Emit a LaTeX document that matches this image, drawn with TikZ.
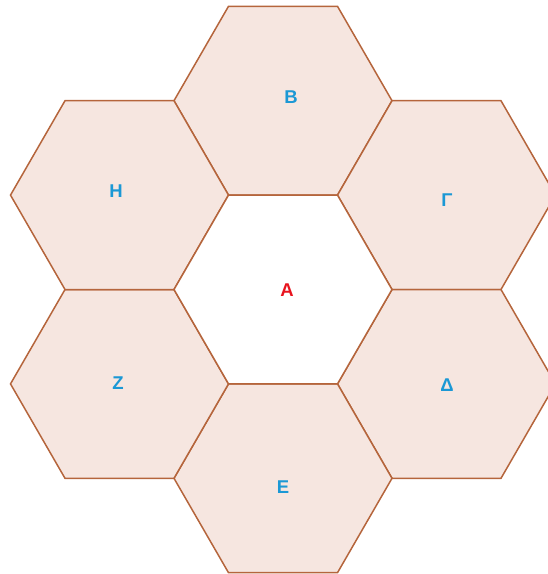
\documentclass[tikz,border=0pt]{standalone}
\usepackage{fontspec}
\setmainfont{Liberation Sans}
\definecolor{cellfill}{HTML}{F6E6E0}
\definecolor{cellline}{HTML}{B5653C}
\definecolor{lblblue}{HTML}{1B98D5}
\definecolor{lblred}{HTML}{E8141E}
\begin{document}
\begin{tikzpicture}[x=1pt, y=-1pt,
  cell/.style={draw=cellline, line width=1.5pt, line join=miter},
  lbl/.style={font=\fontsize{18.5}{22}\selectfont\bfseries, inner sep=0pt}]

  %% ---- Parameters ----
  \pgfmathsetmacro{\rr}{109}

  %% ---- Frame ----
  \useasboundingbox (0,0) rectangle (548,574);
  \clip (0,0) rectangle (548,574);

  %% ---- Outer ring of cells ----
  \foreach \cx/\cy/\lx/\ly/\nm/\txt in {
      283/100.7/291/97/B/Β,
      446.5/195.1/447/200/G/Γ,
      446.5/383.9/447/385/D/Δ,
      283/478.3/283/487/E/Ε,
      119.5/383.9/118/383/Z/Ζ,
      119.5/195.1/116/191/H/Η}{
    \draw[cell, fill=cellfill, shift={(\cx,\cy)}]
      (0:\rr) -- (60:\rr) -- (120:\rr) -- (180:\rr) -- (240:\rr) -- (300:\rr) -- cycle;
    \node[lbl, text=lblblue] (lbl\nm) at (\lx,\ly) {\txt};
  }

  %% ---- Central cell ----
  \draw[cell, fill=white, shift={(283,289.5)}]
    (0:\rr) -- (60:\rr) -- (120:\rr) -- (180:\rr) -- (240:\rr) -- (300:\rr) -- cycle;
  \node[lbl, text=lblred] (lblA) at (287,290) {Α};

\end{tikzpicture}
\end{document}
